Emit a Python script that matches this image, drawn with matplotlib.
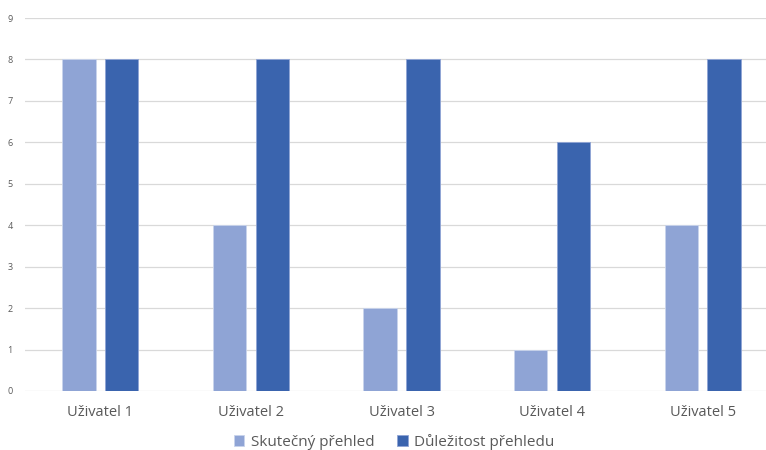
import matplotlib
matplotlib.use("Agg")
import matplotlib.pyplot as plt
import numpy as np

categories = ["Uživatel 1", "Uživatel 2", "Uživatel 3", "Uživatel 4", "Uživatel 5"]
series_names = ["Skutečný přehled", "Důležitost přehledu"]
skutecny = [8, 4, 2, 1, 4]
dulezitost = [8, 8, 8, 6, 8]
y_ticks = list(range(0, 10))

plt.rcParams["font.family"] = ["Open Sans", "DejaVu Sans"]

W, H = 766, 450
fig = plt.figure(figsize=(W / 100, H / 100), dpi=100)
# plot area spans past the right edge of the canvas
ax = fig.add_axes([25 / W, (H - 391) / H, 753 / W, 373 / H])

x = np.arange(len(categories))
bw = 0.222
off = 0.142
light = "#8FA4D5"
dark = "#3A64AE"
b1 = ax.bar(x - off, skutecny, bw, color=light, edgecolor="#C9D4EC", linewidth=0.6, zorder=3,
            label=series_names[0])
b2 = ax.bar(x + off, dulezitost, bw, color=dark, edgecolor="#8FA4D5", linewidth=0.6, zorder=3,
            label=series_names[1])

ax.set_xlim(-0.5, len(categories) - 0.5)
ax.set_ylim(0, 9)
ax.set_yticks(y_ticks)
ax.set_yticklabels([str(t) for t in y_ticks], fontsize=6.5, color="#595959")
ax.set_xticks(x)
ax.set_xticklabels(categories, fontsize=10.5, color="#595959")
ax.tick_params(axis="both", length=0)
ax.tick_params(axis="x", pad=10)
ax.tick_params(axis="y", pad=9)
ax.grid(axis="y", color="#D9D9D9", linewidth=0.9, zorder=0)
for s in ax.spines.values():
    s.set_visible(False)

fig.legend(handles=[b1, b2], labels=series_names, loc="center",
           bbox_to_anchor=(394 / W, 1 - 442 / H), ncol=2, frameon=False,
           fontsize=11, labelcolor="#595959", handlelength=0.7, handleheight=0.7,
           handletextpad=0.4, columnspacing=1.5, borderpad=0.1)

fig.savefig("out.png", dpi=100)
